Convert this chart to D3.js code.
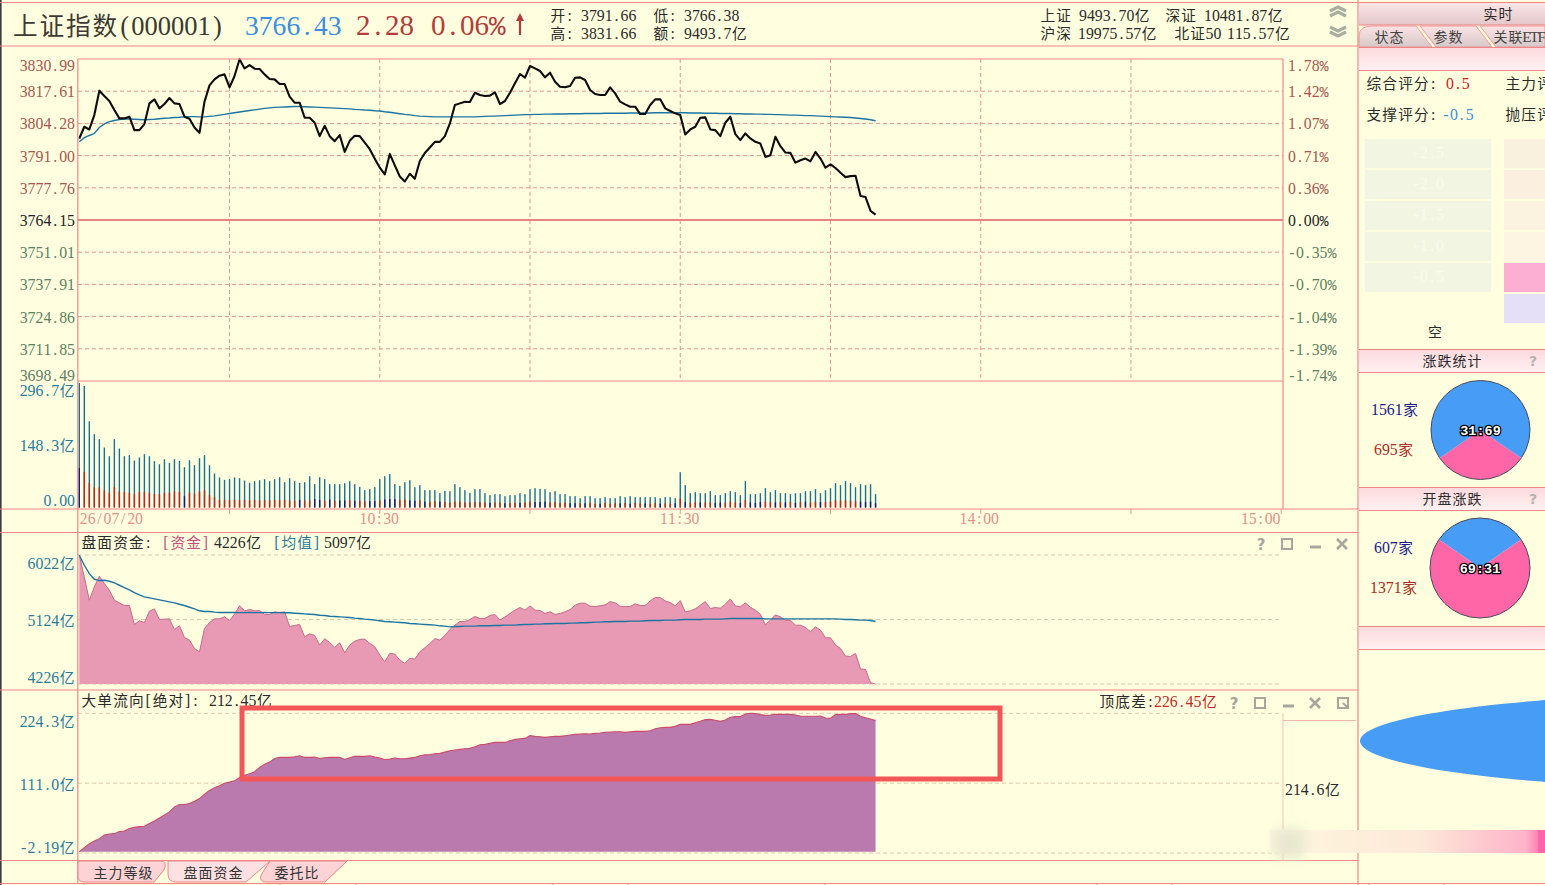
<!DOCTYPE html>
<html lang="zh-CN">
<head>
<meta charset="utf-8">
<title>上证指数分时</title>
<script src="https://cdn.jsdelivr.net/npm/d3@7"></script>
<style>
html,body{margin:0;padding:0;background:#ffffe0;overflow:hidden}
svg{display:block}
</style>
</head>
<body>
<svg id="board" width="1545" height="885"></svg>
<script>
// Minute-by-minute session data, 09:30 through 12:09 of the trading clock
const priceVals = [
3798.05,3802.89,3801.78,3807.73,3817.83,3815.61,3813.54,3809.81,3806.35,3806.35,
3807.04,3801.51,3801.51,3804.00,3812.57,3814.23,3810.50,3812.30,3814.78,3812.57,
3812.30,3807.04,3806.21,3802.61,3800.40,3813.26,3820.04,3822.53,3824.05,3824.60,
3819.21,3823.91,3830.90,3827.09,3828.48,3826.96,3826.82,3824.60,3822.67,3822.53,
3820.59,3820.59,3815.34,3812.85,3812.85,3806.62,3806.62,3804.55,3799.02,3803.31,
3799.02,3796.94,3799.43,3792.52,3797.08,3799.16,3799.02,3796.39,3793.63,3789.75,
3786.02,3783.25,3791.69,3786.99,3782.42,3780.35,3783.53,3781.45,3788.78,3792.10,
3794.32,3796.67,3796.67,3799.02,3804.27,3811.88,3812.57,3813.26,3813.13,3817.00,
3816.03,3815.62,3815.76,3817.14,3812.30,3813.55,3817.00,3820.88,3824.75,3823.23,
3828.07,3827.10,3826.00,3823.37,3825.30,3821.57,3819.49,3819.22,3819.77,3823.23,
3823.37,3822.26,3818.11,3816.45,3816.03,3816.03,3819.22,3816.72,3813.27,3812.16,
3811.19,3811.19,3808.15,3808.15,3811.88,3814.24,3814.24,3810.50,3809.40,3808.43,
3807.74,3799.72,3801.79,3802.90,3806.63,3806.77,3801.79,3801.51,3799.02,3804.56,
3807.04,3799.85,3797.36,3800.13,3798.06,3796.67,3795.98,3790.45,3791.14,3798.75,
3794.88,3792.25,3792.11,3788.10,3789.07,3789.76,3788.65,3792.52,3789.76,3786.02,
3787.41,3785.89,3783.95,3782.15,3782.57,3782.70,3774.27,3773.85,3768.04,3766.43];

const priceMean = [
3796.7,3798.4,3799.3,3800.1,3802.6,3804.1,3805.0,3805.5,3805.9,3806.1,
3806.1,3806.0,3805.9,3805.8,3805.9,3806.0,3806.2,3806.4,3806.5,3806.7,
3806.8,3807.0,3807.1,3807.1,3807.0,3807.0,3807.2,3807.4,3807.7,3808.0,
3808.4,3808.7,3809.0,3809.3,3809.6,3809.9,3810.2,3810.5,3810.7,3810.9,
3811.0,3811.1,3811.2,3811.3,3811.3,3811.2,3811.1,3811.0,3810.9,3810.8,
3810.7,3810.6,3810.5,3810.4,3810.3,3810.1,3810.0,3809.8,3809.7,3809.5,
3809.4,3809.1,3808.9,3808.6,3808.3,3808.0,3807.8,3807.5,3807.3,3807.2,
3807.1,3807.0,3807.0,3807.0,3807.0,3807.0,3807.0,3807.0,3807.0,3807.0,
3807.1,3807.2,3807.3,3807.3,3807.4,3807.5,3807.6,3807.7,3807.8,3807.9,
3807.9,3808.0,3808.0,3808.1,3808.1,3808.2,3808.2,3808.2,3808.3,3808.3,
3808.3,3808.4,3808.4,3808.4,3808.4,3808.5,3808.5,3808.5,3808.5,3808.5,
3808.6,3808.6,3808.6,3808.6,3808.6,3808.7,3808.7,3808.7,3808.7,3808.7,
3808.7,3808.7,3808.6,3808.6,3808.6,3808.5,3808.5,3808.5,3808.4,3808.4,
3808.4,3808.3,3808.3,3808.2,3808.2,3808.1,3808.1,3808.0,3808.0,3807.9,
3807.9,3807.8,3807.7,3807.7,3807.6,3807.5,3807.5,3807.4,3807.3,3807.2,
3807.1,3807.0,3806.9,3806.8,3806.7,3806.5,3806.3,3806.1,3805.8,3805.4];

const turnover = [
296.7,289.8,205.6,174.7,162.8,142.9,122.3,162.8,140.5,122.3,
124.7,112.0,119.1,127.0,122.3,110.4,103.2,115.1,106.4,115.1,
111.2,96.1,112.7,100.8,117.5,124.7,100.8,81.0,71.5,65.9,
68.3,71.5,69.9,64.3,58.8,62.7,65.1,67.5,62.7,67.5,
72.3,60.3,69.9,62.7,58.8,60.3,74.6,55.6,72.3,67.5,
55.6,55.6,55.6,58.0,62.7,55.6,49.2,41.3,43.7,48.4,
67.5,74.6,79.4,55.6,51.6,60.3,65.1,48.4,53.2,41.3,
41.3,41.3,34.1,39.7,38.9,55.6,48.4,41.3,34.9,43.7,
43.7,34.1,29.4,31.8,31.8,27.0,29.4,29.4,34.1,31.8,
43.7,46.1,44.5,43.7,36.5,38.9,31.8,31.8,27.0,27.0,
22.2,27.0,27.0,22.2,22.2,24.6,22.2,22.2,27.0,24.6,
27.0,24.6,24.6,24.6,24.6,24.6,22.2,24.6,24.6,22.2,
84.2,53.2,34.1,36.5,34.1,34.1,38.9,29.4,29.4,34.1,
38.9,36.5,29.4,62.7,31.8,31.8,34.1,46.1,36.5,41.3,
34.1,34.1,31.8,34.1,34.1,38.9,38.9,43.7,34.1,41.3,
46.1,58.0,53.2,62.7,58.0,48.4,55.6,53.2,55.6,31.8];

// Net-direction slice of each minute's turnover: positive is buying, negative selling
const turnoverNet = [
-94,85,59,48,48,41,35,49,38,37,
35,32,37,37,35,32,32,35,35,38,
37,-27,35,33,38,40,29,24,18,18,
17,18,17,18,17,18,17,18,17,18,
17,18,17,16,-18,16,17,-20,-18,16,
-19,16,-17,-17,17,-16,16,15,-15,-15,
17,-19,-20,-20,18,19,-17,-16,17,-14,
14,15,-14,13,12,14,14,12,12,13,
13,12,-11,12,12,-10,11,11,-11,12,
14,-13,-13,-14,12,13,11,12,-10,-10,
10,-10,11,9,-9,11,9,10,-10,11,
-9,11,10,-10,9,11,-9,10,9,-10,
21,-13,11,12,-12,12,13,-11,-12,12,
14,12,-11,18,-12,-11,-13,14,13,-12,
13,-12,13,-11,13,-14,12,14,-13,13,
14,17,16,17,16,15,-14,-13,-14,-10];

const fundVals = [
6022,5717,5393,5578,5726,5624,5532,5393,5356,5319,
5319,5055,5106,5082,5240,5272,5124,5129,5133,4985,
5036,4874,4837,4721,4675,4999,5082,5133,5133,5161,
5110,5198,5314,5245,5263,5245,5249,5194,5194,5231,
5221,5231,5027,5041,5055,4883,4925,4902,4768,4856,
4805,4735,4800,4661,4768,4823,4846,4851,4791,4745,
4629,4536,4652,4643,4559,4513,4582,4573,4675,4731,
4791,4856,4837,4902,4985,5045,5096,5096,5124,5166,
5138,5138,5180,5194,5115,5161,5208,5254,5291,5254,
5314,5254,5249,5208,5231,5194,5208,5231,5263,5323,
5351,5351,5309,5305,5314,5328,5374,5356,5309,5305,
5305,5342,5319,5319,5383,5430,5430,5383,5360,5314,
5388,5231,5245,5272,5323,5374,5277,5291,5282,5337,
5411,5314,5300,5356,5295,5254,5198,5050,5115,5189,
5161,5110,5115,5045,5045,5013,4953,5022,4976,4869,
4869,4768,4721,4615,4610,4652,4434,4430,4244,4226];

const fundMean = [
6018,5879,5763,5684,5666,5671,5657,5633,5601,5569,
5536,5499,5467,5439,5425,5411,5397,5383,5370,5356,
5337,5319,5295,5272,5245,5235,5235,5226,5221,5221,
5221,5221,5220,5220,5221,5220,5220,5221,5220,5220,
5220,5219,5217,5212,5207,5203,5198,5194,5184,5180,
5170,5166,5161,5157,5152,5143,5138,5129,5124,5115,
5106,5096,5092,5087,5082,5078,5069,5064,5059,5055,
5050,5045,5036,5032,5022,5027,5027,5032,5032,5032,
5036,5036,5036,5041,5041,5045,5045,5045,5050,5055,
5055,5059,5059,5064,5064,5069,5069,5069,5073,5073,
5078,5078,5082,5087,5087,5092,5092,5096,5096,5096,
5101,5101,5101,5106,5110,5110,5110,5115,5115,5115,
5120,5124,5124,5124,5124,5129,5129,5129,5129,5133,
5138,5138,5138,5138,5138,5138,5138,5133,5133,5133,
5133,5133,5133,5133,5133,5133,5133,5133,5133,5133,
5133,5133,5129,5124,5124,5120,5115,5115,5110,5097];

const bigOrderFlow = [
-0.6,6.5,13.0,17.3,21.1,27.1,28.7,29.2,32.5,33.6,
37.4,39.5,40.6,41.1,45.5,49.8,54.7,59.6,64.4,72.6,
76.4,76.4,78.0,81.8,86.1,93.2,99.1,103.5,106.7,111.0,
112.7,114.8,120.2,124.0,126.2,129.5,136.5,141.9,145.2,151.1,
152.8,152.8,152.8,153.8,155.5,152.8,152.8,153.3,151.1,152.2,
152.8,152.8,152.8,149.5,152.2,154.4,154.4,154.4,155.5,153.3,
151.7,149.5,150.0,151.7,150.6,150.6,151.7,152.8,155.5,157.1,
157.6,158.7,159.3,161.4,163.6,164.7,165.8,166.8,167.4,170.1,
173.3,173.9,175.5,177.1,177.1,177.1,179.8,182.0,183.1,183.6,
188.0,186.9,186.3,185.3,186.3,186.9,186.9,188.0,189.1,190.1,
190.7,191.2,190.7,191.8,192.3,193.4,193.9,194.5,194.5,193.4,
194.5,195.0,195.0,195.0,196.1,199.3,201.0,201.5,201.5,203.1,
206.4,206.4,206.4,209.1,211.3,214.0,214.5,212.9,211.3,213.4,
217.8,218.9,218.9,223.2,224.3,223.7,222.1,221.0,221.6,222.6,
222.6,222.6,222.6,221.6,219.9,219.4,219.4,219.4,219.9,216.7,
216.2,222.1,222.6,222.6,223.7,223.7,219.4,217.2,215.1,212.45];

// Axis ticks
const priceTicks = [3830.99,3817.61,3804.28,3791.00,3777.76,3764.15,3751.01,3737.91,3724.86,3711.85,3698.49];
const pctLabels  = ["1.78%","1.42%","1.07%","0.71%","0.36%","0.00%","-0.35%","-0.70%","-1.04%","-1.39%","-1.74%"];
const volTicks   = [296.7,148.3,0];
const volLabels  = ["296.7亿","148.3亿","0.00"];
const fundTicks  = [6022,5124,4226];
const flowTicks  = [224.3,111.0,-2.19];
const flowLabels = ["224.3亿","111.0亿","-2.19亿"];
const timeTicks  = [0,60,120,180,240];
const timeLabels = ["26/07/20","10:30","11:30","14:00","15:00"];
const gridMinutes = [30,60,90,120,150,180,210];

// Market breadth counts
const breadthClose = [1561,695];
const breadthOpen  = [607,1371];
const scoreBoxes = ["-2.5","-2.0","-1.5","-1.0","-0.5"];

const C = {bg:"#ffffe0",line:"#f08686",grid:"#dd9a8c",soft:"#d9c9a8",teal:"#2a7a9c",blue:"#3c8ede",red:"#b23c3c",
           up:"#a5574f",down:"#5f7f60",axisT:"#e39089",pieBlue:"#479cf5",piePink:"#ff66a8",mean:"#1c74a2"};

const svg = d3.select("#board");
const defs = svg.append("defs");
function grad(id, stops, horizontal){
  const g = defs.append("linearGradient").attr("id",id).attr("x1",0).attr("y1",0)
    .attr("x2",horizontal?1:0).attr("y2",horizontal?0:1);
  stops.forEach(([o,c])=>g.append("stop").attr("offset",o).attr("stop-color",c));
}
grad("barHead",[[0,"#fbe6e7"],[1,"#e2c6ca"]]);
grad("tabHead",[[0,"#fde3e5"],[1,"#d6c9c9"]]);
grad("band",[[0,"#fcd9dd"],[1,"#fff0f1"]]);
grad("fade",[[0,"#fdf6dd"],[0.55,"#fde9d8"],[0.93,"#fdb3c9"],[1,"#ff66a8"]],true);
defs.append("filter").attr("id","smudge").attr("x","-30%").attr("y","-60%").attr("width","160%").attr("height","220%")
  .append("feGaussianBlur").attr("stdDeviation",6);

// Advance widths of Liberation Serif, used to centre each glyph in its half-width cell
const serifAdvance = {".":.25,":":.278,"/":.278,"-":.333,"(":.333,")":.333,"[":.333,"]":.333,E:.611,T:.611,F:.556};

// Text laid out on a grid of half-width and full-width cells, as a bitmap UI font would be
function put(root,x,y,str,o={}){
  const size=o.size||15.8, anchor=o.anchor||"start";
  const runs=str.split(/([\u2E80-\u9FFF]+|%)/).filter(Boolean);
  const cellOf=r=>/[\u2E80-\u9FFF]/.test(r)?size:r==="%"?size*0.62:size/2;
  const total=d3.sum(runs,r=>r.length*cellOf(r));
  let pen=x-(anchor==="end"?total:anchor==="middle"?total/2:0);
  // Glyph positions are absolute, so the anchor stays at start whatever the parent sets
  const t=root.append("text").attr("y",y).attr("fill",o.fill||"#2a2a2a").attr("text-anchor","start");
  runs.forEach(run=>{
    const cjk=/[\u2E80-\u9FFF]/.test(run), pct=run==="%", cell=cellOf(run);
    const xs=Array.from(run).map(ch=>{
      const inset=cjk?size*0.035:pct?0:(0.5-(serifAdvance[ch]??0.5))*size/2;
      const p=pen+inset; pen+=cell; return p.toFixed(2);
    });
    t.append("tspan").attr("x",xs.join(" ")).text(run)
      .attr("font-family",cjk?'"Noto Sans CJK SC"':pct?'"Liberation Mono"':'"Liberation Serif"')
      .attr("font-size",cjk?size*0.93:pct?size*0.95:size);
  });
  return t;
}
function hline(y,x1,x2,c,w){svg.append("line").attr("x1",x1).attr("x2",x2).attr("y1",y).attr("y2",y).attr("stroke",c||C.line).attr("stroke-width",w||1.2);}
function vline(x,y1,y2,c,w){svg.append("line").attr("x1",x).attr("x2",x).attr("y1",y1).attr("y2",y2).attr("stroke",c||C.line).attr("stroke-width",w||1.2);}

svg.append("rect").attr("width",1545).attr("height",885).attr("fill",C.bg);
svg.append("rect").attr("width",1.6).attr("height",885).attr("fill","#3a3a3a");

// Shared time scale, one slot per minute of the four-hour session
const x = d3.scaleLinear().domain([0,240]).range([79.3,1281.2]);

// ---- Price panel ----
const priceY = d3.scaleLinear().domain(priceTicks).range(priceTicks.map((_,i)=>59+32.2*i));
const hGrid = svg.append("g");
priceTicks.slice(1,-1).forEach(v=>{
  if(v===3764.15) return;
  hGrid.append("line").attr("x1",78).attr("x2",1283).attr("y1",priceY(v)).attr("y2",priceY(v))
    .attr("stroke",C.grid).attr("stroke-dasharray","4 3");
});
gridMinutes.forEach(m=>{
  hGrid.append("line").attr("x1",x(m)).attr("x2",x(m)).attr("y1",59).attr("y2",381)
    .attr("stroke",C.grid).attr("stroke-dasharray","4 3");
});
hline(220,78,1283,"#ec8383",2.2);

const priceLine = d3.line().x((d,i)=>x(i)).y(d=>priceY(d));
svg.append("path").datum(priceMean).attr("d",priceLine).attr("fill","none").attr("stroke",C.mean).attr("stroke-width",1.4);
svg.append("path").datum(priceVals).attr("d",priceLine).attr("fill","none").attr("stroke","#0c0c0c").attr("stroke-width",2.1).attr("stroke-linejoin","round");

// Axis text only: the frame and grid are drawn separately
function restyle(gAxis, labels, colorOf, shift, anchor){
  gAxis.call(g=>g.select(".domain").remove()).call(g=>g.selectAll("line").remove());
  gAxis.selectAll(".tick").each(function(d,i){
    const tk=d3.select(this);
    tk.select("text").remove();
    put(tk,0,(shift?shift[i]:0)+5,labels[i],{fill:colorOf(i),anchor});
  });
}
const priceShift=[6,0.5,0.5,0.5,0.5,0.5,0.5,0.5,0.5,0.5,-6];
const leftPrice = svg.append("g").attr("transform","translate(75,0)")
  .call(d3.axisLeft(priceY).tickValues(priceTicks).tickSize(0).tickPadding(0).tickFormat(d3.format(".2f")));
restyle(leftPrice, priceTicks.map(d3.format(".2f")), i=>i<5?C.up:i===5?"#222":C.down, priceShift, "end");
const rightPrice = svg.append("g").attr("transform","translate(1288,0)")
  .call(d3.axisRight(priceY).tickValues(priceTicks).tickSize(0).tickPadding(0));
restyle(rightPrice, pctLabels, i=>i<5?C.up:i===5?"#222":C.down, priceShift, "start");

// ---- Turnover panel ----
const volY = d3.scaleLinear().domain([0,296.7]).range([507.5,383]);
const bars = svg.append("g");
bars.selectAll(".all").data(turnover).join("rect").attr("class","all")
  .attr("x",(d,i)=>x(i)-0.7).attr("width",1.4).attr("y",d=>volY(d)).attr("height",d=>volY(0)-volY(d)).attr("fill","#1b6f96");
bars.selectAll(".net").data(turnoverNet).join("rect").attr("class","net")
  .attr("x",(d,i)=>x(i)-0.7).attr("width",1.4).attr("y",d=>volY(Math.abs(d))).attr("height",d=>volY(0)-volY(Math.abs(d)))
  .attr("fill",d=>d>0?"#c0241c":"#0d1a80");
const leftVol = svg.append("g").attr("transform","translate(75,0)")
  .call(d3.axisLeft(volY).tickValues(volTicks).tickSize(0).tickPadding(0));
restyle(leftVol, volLabels, ()=>C.teal, [7,0,-7.5], "end");

// ---- Time axis ----
const timeAxis = svg.append("g").attr("transform","translate(0,509)")
  .call(d3.axisBottom(x).tickValues(timeTicks).tickSize(0).tickPadding(0));
gridMinutes.forEach(m=>vline(x(m),509,514,C.grid,1));
vline(x(240),509,514,C.grid,1);
timeAxis.call(g=>g.select(".domain").remove());
timeAxis.selectAll(".tick").each(function(d,i){
  const tk=d3.select(this); tk.selectAll("*").remove();
  const offs=[0,-1,-1,-2,-21][i];
  put(tk,offs,15,timeLabels[i],{fill:C.axisT,anchor:i===0?"start":"middle"});
});

// ---- Funds panel ----
const fundY = d3.scaleLinear().domain([4226,6022]).range([684,555]);
fundTicks.forEach(v=>{
  svg.append("line").attr("x1",78).attr("x2",1281).attr("y1",fundY(v)).attr("y2",fundY(v))
    .attr("stroke",C.soft).attr("stroke-dasharray","4 3");
});
const fundArea = d3.area().x((d,i)=>x(i)).y0(fundY(4226)).y1(d=>fundY(d));
svg.append("path").datum(fundVals).attr("d",fundArea).attr("fill","#e899b3");
svg.append("path").datum(fundVals).attr("d",d3.line().x((d,i)=>x(i)).y(d=>fundY(d))).attr("fill","none").attr("stroke","#c46a8c").attr("stroke-width",1);
svg.append("path").datum(fundMean).attr("d",d3.line().x((d,i)=>x(i)).y(d=>fundY(d))).attr("fill","none").attr("stroke",C.mean).attr("stroke-width",1.4);
const leftFund = svg.append("g").attr("transform","translate(75,0)")
  .call(d3.axisLeft(fundY).tickValues(fundTicks).tickSize(0).tickPadding(0));
restyle(leftFund, fundTicks.map(v=>v+"亿"), ()=>C.teal, [8,1,-7], "end");

const fundTitle = svg.append("g");
put(fundTitle,81,548,"盘面资金:",{});
put(fundTitle,162,548,"[资金]",{fill:"#c0507a"});
put(fundTitle,214,548,"4226亿",{});
put(fundTitle,273,548,"[均值]",{fill:C.teal});
put(fundTitle,324,548,"5097亿",{});

// ---- Large-order flow panel ----
const flowY = d3.scaleLinear().domain([-2.19,224.3]).range([853,713.3]);
flowTicks.forEach(v=>{
  svg.append("line").attr("x1",78).attr("x2",1281).attr("y1",flowY(v)).attr("y2",flowY(v))
    .attr("stroke",C.soft).attr("stroke-dasharray","4 3");
});
const flowArea = d3.area().x((d,i)=>x(i)).y0(flowY(0)).y1(d=>flowY(Math.max(d,0)));
svg.append("path").datum(bigOrderFlow).attr("d",flowArea).attr("fill","#bb7aae");
svg.append("path").datum(bigOrderFlow).attr("d",d3.line().x((d,i)=>x(i)).y(d=>flowY(Math.max(d,0)))).attr("fill","none").attr("stroke","#cc4a6c").attr("stroke-width",1.1);
const leftFlow = svg.append("g").attr("transform","translate(75,0)")
  .call(d3.axisLeft(flowY).tickValues(flowTicks).tickSize(0).tickPadding(0));
restyle(leftFlow, flowLabels, ()=>C.teal, [8,1,-6], "end");

put(svg,81,706,"大单流向[绝对]:",{});
put(svg,209,706,"212.45亿",{});
put(svg,1099,707,"顶底差:",{});
put(svg,1154,707,"226.45亿",{fill:"#c02a2a"});
put(svg,1285,795,"214.6亿",{});

// ---- Panel frames ----
hline(2.5,0,1545); hline(46,0,1358);
hline(59,78,1283); hline(381,78,1283);
hline(509,0,1358); hline(532.5,0,1358); hline(690,0,1358); hline(860.5,0,1358); hline(883.5,0,1545);
vline(77.8,59,883); vline(1283,59,509);
vline(1283,713,860,"#f0c0b4",1); hline(720.5,1283,1356,"#f5b6ae",1);
vline(1358,0,885);
[84,280,356,553,628,825,1097,1172,1369,1444].forEach(p=>vline(p,883,885,C.line,1));

// ---- Highlight frame over the flow panel ----
svg.append("rect").attr("x",242).attr("y",708).attr("width",758).attr("height",71)
  .attr("fill","none").attr("stroke","#f25656").attr("stroke-width",5);

// ---- Quote header ----
const head = svg.append("g");
put(head,12,35,"上证指数(000001)",{size:26.5,fill:"#3a3a30"});
put(head,245,35,"3766.43",{size:27.6,fill:C.blue});
put(head,356,35,"2.28",{size:29,fill:C.red});
put(head,431,35,"0.06%",{size:29,fill:C.red});
head.append("path").attr("d","M520 35V18").attr("stroke",C.red).attr("stroke-width",2.2);
head.append("path").attr("d","M516 21L520 13L524 21Z").attr("fill",C.red);
put(head,550,21,"开:"); put(head,581,21,"3791.66");
put(head,653,21,"低:"); put(head,684,21,"3766.38");
put(head,550,39,"高:"); put(head,581,39,"3831.66");
put(head,653,39,"额:"); put(head,684,39,"9493.7亿");
put(head,1040,21,"上证"); put(head,1079,21,"9493.70亿");
put(head,1165,21,"深证"); put(head,1204,21,"10481.87亿");
put(head,1040,39,"沪深"); put(head,1078,39,"19975.57亿");
put(head,1174,39,"北证50"); put(head,1227,39,"115.57亿");
// Scroll chevrons
[[7,-1],[12,-1],[27,1],[32,1]].forEach(([y,dir])=>{
  const a=dir<0?y+4:y, b=dir<0?y:y+4;
  head.append("path").attr("d",`M1330 ${a}L1338 ${b}L1346 ${a}`).attr("fill","none").attr("stroke","#a9ada2").attr("stroke-width",3.2);
});

// Window control glyphs
function glyphs(cy,items){
  const g=svg.append("g").attr("stroke","#a6a69c").attr("fill","none").attr("stroke-width",2);
  items.forEach(([kind,cx])=>{
    if(kind==="?") g.append("text").attr("x",cx).attr("y",cy+6).attr("text-anchor","middle").attr("font-family","DejaVu Sans").attr("font-weight","bold").attr("font-size",15).attr("fill","#a6a69c").attr("stroke","none").text("?");
    if(kind==="box") g.append("rect").attr("x",cx-5).attr("y",cy-5).attr("width",10).attr("height",10);
    if(kind==="min") g.append("path").attr("d",`M${cx-5} ${cy+3}H${cx+6}`).attr("stroke-width",3);
    if(kind==="x") g.append("path").attr("d",`M${cx-5} ${cy-5}L${cx+5} ${cy+5}M${cx+5} ${cy-5}L${cx-5} ${cy+5}`).attr("stroke-width",2.6);
    if(kind==="pop"){ g.append("rect").attr("x",cx-5).attr("y",cy-5).attr("width",10).attr("height",10); g.append("path").attr("d",`M${cx} ${cy}L${cx+5} ${cy+5}`);}
  });
}
glyphs(544,[["?",1261],["box",1287],["min",1315],["x",1342]]);
glyphs(703,[["?",1234],["box",1260],["min",1288],["x",1315],["pop",1343]]);

// ---- Bottom tabs ----
const tabs=[["M78 861H160Q168 861 164 870L154 882H84Q78 882 78 876Z","主力等级",93,"#fdd3d6"],
            ["M168 861H270L246 882H176Q168 882 168 874Z","盘面资金",183,"#fde0e2"],
            ["M270 861H347L325 882H266Q259 882 261 875Z","委托比",274,"#fdd3d6"]];
tabs.forEach(([d,name,tx,c])=>{
  svg.append("path").attr("d",d).attr("fill",c).attr("stroke",C.line).attr("stroke-width",1);
  put(svg,tx,878,name,{size:15,fill:"#333"});
});

// ---- Side panel ----
const side = svg.append("g");
side.append("rect").attr("x",1359).attr("y",3).attr("width",186).attr("height",22).attr("fill","url(#barHead)");
hline(25,1359,1545);
put(side,1498,19,"实时",{size:15,anchor:"middle"});
[["M1359 47V35Q1360 26 1372 26H1416L1432 47Z","状态",1374],["M1420 26H1476L1492 47H1436Z","参数",1433],["M1480 26H1545V47H1496Z","关联ETF",1493]]
  .forEach(([d,name,tx])=>{
    side.append("path").attr("d",d).attr("fill","url(#tabHead)").attr("stroke",C.line).attr("stroke-width",0.8);
    put(side,tx,42,name,{size:15,fill:"#444"});
  });
side.append("rect").attr("x",1359).attr("y",47).attr("width",186).attr("height",23).attr("fill","url(#band)");
hline(47.5,1359,1545); hline(70.5,1359,1545);
put(side,1366,89,"综合评分:"); put(side,1446,89,"0.5",{fill:"#c8201c"});
put(side,1505,89,"主力评");
put(side,1366,120,"支撑评分:"); put(side,1442,120,"-0.5",{fill:C.blue});
put(side,1505,120,"抛压评");
const peach=["#f9f1dd","#fbefe0","#fbf2e0","#fdf5e1","#fdaed3","#e5dff8"];
scoreBoxes.forEach((s,i)=>{
  side.append("rect").attr("x",1365).attr("y",139+31*i).attr("width",126).attr("height",29).attr("fill","#f1f5e2");
  put(side,1428,158+31*i,s,{anchor:"middle",fill:"#f9fbee"});
});
peach.forEach((c,i)=>side.append("rect").attr("x",1504).attr("y",139+31*i).attr("width",41).attr("height",29).attr("fill",c));
put(side,1435,337,"空",{anchor:"middle",size:15});

function sectionHead(y,name){
  side.append("rect").attr("x",1359).attr("y",y).attr("width",186).attr("height",23).attr("fill","url(#band)");
  hline(y+0.5,1359,1545); hline(y+23.5,1359,1545);
  if(name){
    put(side,1452,y+17,name,{anchor:"middle",size:15});
    side.append("text").attr("x",1533).attr("y",y+17).attr("text-anchor","middle").attr("font-family","DejaVu Sans").attr("font-weight","bold").attr("font-size",14).attr("fill","#b5b5ac").text("?");
  }
}
sectionHead(349,"涨跌统计"); sectionHead(487,"开盘涨跌"); sectionHead(626,"");

// Breadth pies: falling share in blue, rising share in pink
function breadthPie(cx,cy,r,counts,pinkBottom,text){
  const [fall,rise]=counts;
  const share=(pinkBottom?rise:fall)/(rise+fall);
  const half=share*Math.PI;
  const start=pinkBottom?Math.PI-half:-half;
  const pie=d3.pie().sort(null).startAngle(start).endAngle(start+2*Math.PI);
  const arc=d3.arc().innerRadius(0).outerRadius(r);
  const values=pinkBottom?[rise,fall]:[fall,rise];
  const colors=pinkBottom?[C.piePink,C.pieBlue]:[C.pieBlue,C.piePink];
  const g=svg.append("g").attr("transform",`translate(${cx},${cy})`);
  g.selectAll("path").data(pie(values)).join("path").attr("d",arc).attr("fill",(d,i)=>colors[i]);
  g.append("circle").attr("r",r).attr("fill","none").attr("stroke","#4a4a5a").attr("stroke-width",1);
  g.append("text").attr("y",5).attr("text-anchor","middle").attr("font-family","Liberation Mono").attr("font-weight","bold").attr("font-size",13.5)
    .attr("fill","#fff").attr("stroke","#000").attr("stroke-width",2.6).attr("paint-order","stroke").text(text);
}
breadthPie(1480.5,430,49.5,breadthClose,true,"31:69");
breadthPie(1480,568,50,breadthOpen,false,"69:31");
put(side,1371,415,breadthClose[0]+"家",{fill:"#1a1a8c"});
put(side,1374,455,breadthClose[1]+"家",{fill:"#a82a20"});
put(side,1374,553,breadthOpen[0]+"家",{fill:"#1a1a8c"});
put(side,1370,593,breadthOpen[1]+"家",{fill:"#a82a20"});

// Lower side panel: large gauge lobe and the colour ramp under it
const clip=defs.append("clipPath").attr("id","sideClip");
clip.append("rect").attr("x",1359).attr("y",650).attr("width",186).attr("height",232);
side.append("ellipse").attr("clip-path","url(#sideClip)").attr("cx",1760).attr("cy",741).attr("rx",400).attr("ry",48.5).attr("fill",C.pieBlue);
side.append("rect").attr("x",1270).attr("y",830).attr("width",275).attr("height",23).attr("fill","url(#fade)");
side.append("rect").attr("x",1538).attr("y",830).attr("width",7).attr("height",23).attr("fill",C.piePink);
svg.append("rect").attr("x",1274).attr("y",828).attr("width",30).attr("height",30).attr("fill","#e8e8cf").attr("filter","url(#smudge)");
</script>
</body>
</html>
